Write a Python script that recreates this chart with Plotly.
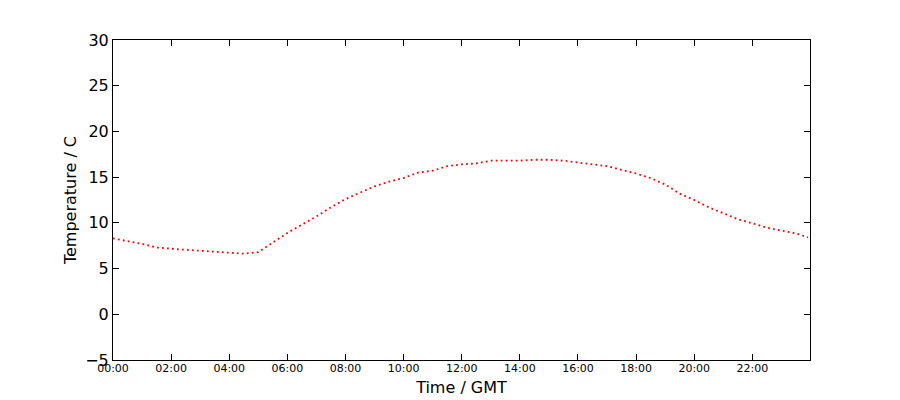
import plotly.graph_objects as go

# half-hourly readings
times = ["00:00", "00:30", "01:00", "01:30", "02:00", "02:30", "03:00", "03:30",
         "04:00", "04:30", "05:00", "05:30", "06:00", "06:30", "07:00", "07:30",
         "08:00", "08:30", "09:00", "09:30", "10:00", "10:30", "11:00", "11:30",
         "12:00", "12:30", "13:00", "13:30", "14:00", "14:30", "15:00", "15:30",
         "16:00", "16:30", "17:00", "17:30", "18:00", "18:30", "19:00", "19:30",
         "20:00", "20:30", "21:00", "21:30", "22:00", "22:30", "23:00", "23:30",
         "23:55"]
temps = [8.3, 8.0, 7.7, 7.3, 7.15, 7.05, 6.95, 6.85,
         6.72, 6.63, 6.8, 7.9, 8.9, 9.8, 10.7, 11.7,
         12.6, 13.3, 14.0, 14.5, 14.9, 15.5, 15.7, 16.2,
         16.4, 16.5, 16.8, 16.8, 16.8, 16.9, 16.9, 16.8,
         16.6, 16.45, 16.2, 15.8, 15.4, 14.9, 14.2, 13.2,
         12.5, 11.7, 11.05, 10.4, 9.95, 9.47, 9.15, 8.85,
         8.4]
day = "2015-06-01 "
x = [day + t for t in times]

font = "DejaVu Sans, sans-serif"

fig = go.Figure()
fig.add_trace(go.Scatter(
    x=x, y=temps, mode="lines",
    line=dict(color="red", width=1.8, dash="1.8px,3.2px"),
    showlegend=False
))

axis_style = dict(
    showgrid=False, zeroline=False, showline=True, linecolor="black",
    linewidth=1, mirror="ticks", ticks="inside", ticklen=6,
    tickcolor="black", tickwidth=1
)

# the page has an 8px body margin, so the margins are shifted to compensate
fig.update_layout(
    width=900, height=400,
    margin=dict(l=105, r=98, t=32, b=48),
    paper_bgcolor="white", plot_bgcolor="white",
    font=dict(family=font, color="black"),
    xaxis=dict(
        axis_style, type="date",
        range=[day + "00:00", day + "23:59"],
        dtick=2 * 3600 * 1000, tick0=day + "00:00",
        tickformat="%H:%M", tickfont=dict(size=11),
        ticklabelstandoff=-2,
        title=dict(text="Time / GMT", font=dict(size=16), standoff=7),
    ),
    yaxis=dict(
        axis_style, range=[-5, 30], dtick=5,
        tickfont=dict(size=16),
        title=dict(text="Temperature / C", font=dict(size=16), standoff=4),
    ),
)

fig.write_html("out.html")
